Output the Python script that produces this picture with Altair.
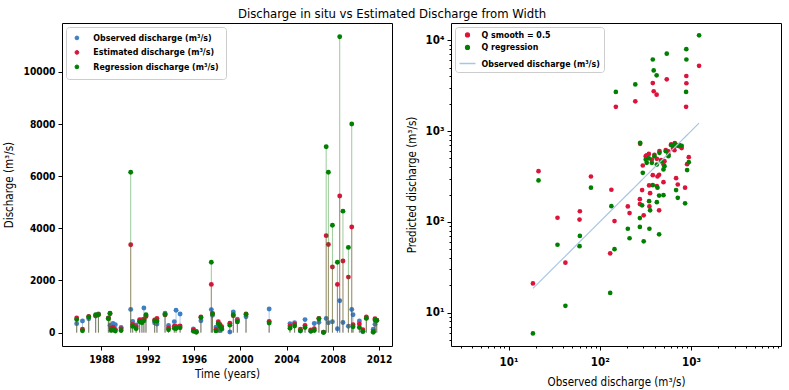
import altair as alt
import pandas as pd

# ---- measurement dates (decimal years) and discharges (m3/s) ----
years = [1985.86, 1986.36, 1986.90, 1987.50, 1987.74, 1988.60, 1988.74, 1988.85, 1989.00, 1989.20,
         1989.70, 1990.53, 1990.70, 1991.00, 1991.30, 1991.50, 1991.67, 1991.85, 1992.60, 1992.80,
         1993.50, 1993.80, 1994.30, 1994.45, 1994.80, 1995.95, 1996.20, 1996.60, 1997.50, 1997.60,
         1997.90, 1998.10, 1998.25, 1998.40, 1999.10, 1999.40, 1999.75, 2000.50, 2002.50, 2004.30,
         2004.70, 2005.20, 2005.60, 2006.10, 2006.40, 2006.80, 2007.20, 2007.43, 2007.62, 2007.97,
         2008.40, 2008.60, 2008.88, 2009.35, 2009.64, 2009.75, 2010.30, 2010.60, 2010.90, 2011.50,
         2011.65, 2011.80]
observed = [345, 447, 529, 637, 716, 565, 277, 275, 356, 303,
            203, 890, 429, 291, 422, 499, 945, 658, 372, 327,
            747, 275, 422, 861, 716, 145, 42, 451, 883, 664,
            212, 296, 80, 134, 21.3, 790, 512, 606, 906, 347,
            381, 60.5, 499, 60, 350, 397, 18.5, 542, 381, 420,
            150, 1225, 390, 245, 888, 686, 447, 34.4, 565, 130,
            319, 470]
estimated = [560, 134, 618, 645, 700, 552, 724, 157, 207, 118,
             148, 3370, 316, 224, 495, 428, 516, 617, 486, 540,
             680, 178, 248, 238, 258, 102, 35.5, 602, 1850, 740,
             125, 418, 316, 226, 362, 650, 467, 715, 432, 252,
             327, 131, 274, 106, 148, 548, 21, 3720, 3380, 2520,
             1850, 5240, 2750, 2130, 4050, 303, 330, 111, 600, 45,
             530, 480]
regression = [500, 73, 601, 690, 690, 530, 743, 88, 134, 61,
              84, 6150, 238, 152, 428, 378, 455, 690, 447, 447,
              700, 110, 165, 160, 184, 50, 11.9, 577, 2700, 720,
              66, 347, 238, 149, 286, 690, 411, 700, 372, 169,
              254, 70, 197, 54, 84, 530, 5.9, 7130, 6150, 4120,
              2700, 11350, 4660, 3270, 8000, 224, 195, 56, 545, 16.5,
              486, 465]

FONT = "DejaVu Sans Condensed"
OBS_COLOR, EST_COLOR, REG_COLOR = "#3f80c4", "#dc143c", "#008000"
LINE_COLOR = "#a6c6e6"

# ---------------- left: time series drawn as stems ----------------
ts_names = ["Observed discharge (m³/s)", "Estimated discharge (m³/s)", "Regression discharge (m³/s)"]
ts_rows = []
for y, o, e, r in zip(years, observed, estimated, regression):
    for name, v in zip(ts_names, (o, e, r)):
        ts_rows.append({"year": y, "series": name, "value": v})
ts = pd.DataFrame(ts_rows)

left_legend = alt.Legend(
    title=None, orient="top-left", offset=3.5, padding=6.5, rowPadding=4.5,
    symbolType="circle", symbolSize=14, symbolStrokeWidth=1, symbolOpacity=1,
    labelOffset=12, strokeColor="#cccccc", cornerRadius=3,
    fillColor="white", labelFont=FONT, labelFontSize=8.8, labelFontWeight="bold",
    labelColor="black", labelLimit=400,
)
left_color = alt.Color("series:N", scale=alt.Scale(domain=ts_names, range=[OBS_COLOR, EST_COLOR, REG_COLOR]),
                       legend=left_legend)
x_time = alt.X("year:Q", scale=alt.Scale(domain=[1984.59, 2013.12], nice=False, zero=False),
               axis=alt.Axis(values=[1988, 1992, 1996, 2000, 2004, 2008, 2012], format="d",
                             title="Time (years)", labelPadding=4, titlePadding=4))
y_q = alt.Y("value:Q", scale=alt.Scale(domain=[-513, 11877], nice=False, zero=False),
            axis=alt.Axis(values=[0, 2000, 4000, 6000, 8000, 10000], format="d",
                          title="Discharge (m³/s)", titlePadding=9))

left_layers = []
for name in ts_names:
    part = alt.Chart(ts).transform_filter(alt.datum.series == name)
    left_layers.append(part.mark_rule(strokeWidth=1, opacity=0.4).encode(
        x=x_time, y=y_q, y2=alt.datum(0), color=left_color))
    left_layers.append(part.mark_circle(size=24, opacity=1).encode(
        x=x_time, y=y_q, color=left_color))
left = alt.layer(*left_layers).properties(width=330, height=323)

# ---------------- right: predicted vs observed (log-log) ----------------
sc_names = ["Q smooth = 0.5", "Q regression", "Observed discharge (m³/s)"]
sc_rows = []
for o, e, r in zip(observed, estimated, regression):
    sc_rows.append({"obs": o, "series": sc_names[0], "pred": e})
    sc_rows.append({"obs": o, "series": sc_names[1], "pred": r})
sc = pd.DataFrame(sc_rows)
diag = pd.DataFrame({"obs": sorted(observed), "pred": sorted(observed), "series": sc_names[2]})

# legend entries: dots for the two estimates, a short line for the 1:1 reference
is_obs = "(datum.value || datum) == '%s'" % sc_names[2]
right_legend = alt.Legend(
    title=None, orient="top-left", offset=3.5, padding=3.5, rowPadding=1.5,
    symbolType=alt.ExprRef(expr="%s ? 'stroke' : 'circle'" % is_obs),
    symbolSize=alt.ExprRef(expr="%s ? 256 : 14" % is_obs),
    symbolStrokeColor=alt.ExprRef(expr="%s ? '%s' : 'transparent'" % (is_obs, LINE_COLOR)),
    symbolStrokeWidth=1.5, symbolOpacity=1,
    labelOffset=5, strokeColor="#cccccc", cornerRadius=3,
    fillColor="white", labelFont=FONT, labelFontSize=8.8, labelFontWeight="bold",
    labelColor="black", labelLimit=400,
)
right_color = alt.Color("series:N", scale=alt.Scale(domain=sc_names, range=[EST_COLOR, REG_COLOR, LINE_COLOR]),
                        legend=right_legend)

x_minor = [m * 10 ** k for k in range(0, 4) for m in range(1, 10) if 2.34 <= m * 10 ** k <= 9690]
y_minor = [m * 10 ** k for k in range(0, 5) for m in range(1, 10) if 4.29 <= m * 10 ** k <= 15530]
pow_label = ("datum.value == 10 ? '10¹' : datum.value == 100 ? '10²' : "
             "datum.value == 1000 ? '10³' : datum.value == 10000 ? '10⁴' : ''")
tick_len = alt.ExprRef(expr="abs(log(datum.value)/LN10 - round(log(datum.value)/LN10)) < 0.000001 ? 4 : 2")

x_obs = alt.X("obs:Q", scale=alt.Scale(type="log", domain=[2.34, 9690], nice=False),
              axis=alt.Axis(values=x_minor, labelExpr=pow_label, tickSize=tick_len, labelPadding=6,
                            labelFontSize=11.5, title="Observed discharge (m³/s)", titlePadding=9))
y_pred = alt.Y("pred:Q", scale=alt.Scale(type="log", domain=[4.29, 15530], nice=False),
               axis=alt.Axis(values=y_minor, labelExpr=pow_label, tickSize=tick_len,
                             labelFontSize=11.5, title="Predicted discharge (m³/s)", titlePadding=8))

pts = alt.Chart(sc).mark_circle(size=22, opacity=1).encode(
    x=x_obs, y=y_pred, color=right_color,
    order=alt.Order("series:N", sort="descending"))
line = alt.Chart(diag).mark_line(strokeWidth=1.2).encode(x=x_obs, y=y_pred, color=right_color)
right = alt.layer(pts, line).properties(width=330, height=323)

chart = alt.hconcat(left, right, spacing=12).properties(
    title=alt.TitleParams("Discharge in situ vs Estimated Discharge from Width", font=FONT,
                          fontSize=13, fontWeight="normal", anchor="middle", offset=2, color="black"),
    padding={"left": 2, "top": 7, "right": 3, "bottom": 2},
).resolve_scale(color="independent").configure_view(
    stroke="black", strokeWidth=1
).configure_axis(
    domain=False, grid=False, tickColor="black", tickSize=4, labelPadding=3,
    labelFont=FONT, labelFontSize=10.2, labelFontWeight="bold", labelColor="black",
    titleFont=FONT, titleFontSize=11.5, titleFontWeight="normal", titleColor="black",
)

chart.save("out.html", embed_options={"renderer": "svg", "actions": False})
